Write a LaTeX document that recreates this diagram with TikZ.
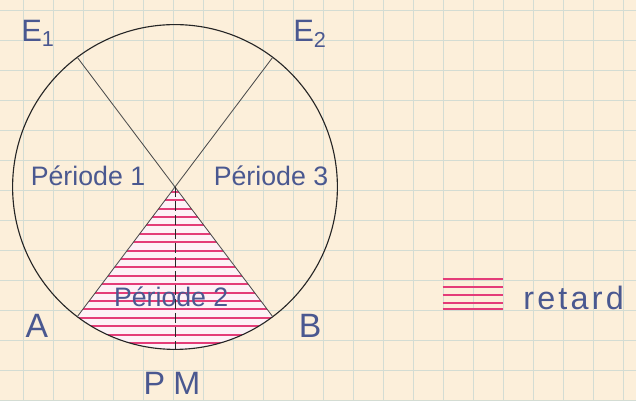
\documentclass[tikz,border=0pt]{standalone}
\usepackage{fontspec}
\newfontfamily\handfont{Liberation Sans}
\usetikzlibrary{calc}
\definecolor{paper}{HTML}{FCEFDA}
\definecolor{gridline}{HTML}{D3DCD3}
\definecolor{ink}{HTML}{4A5890}
\definecolor{retardpink}{HTML}{E43C78}

\begin{document}
\begin{tikzpicture}[
            lbl/.style={text=ink, font=\handfont\fontsize{19}{22}\selectfont, inner sep=0pt, anchor=base},
            biglbl/.style={lbl, font=\handfont\fontsize{24}{28}\selectfont},
            spoke/.style={draw=black!70, line width=0.6pt},
            hatch/.style={draw=retardpink, line width=1.3pt}
        ]
        % --- graph paper ---
        \fill[paper] (0,0) rectangle (15.9,10.025);
        \useasboundingbox (0,0) rectangle (15.9,10.025);
        \foreach \i in {0,...,20}
            \draw[gridline, line width=0.5pt] ({0.575+0.75*\i},0) -- ++(0,10.025);
        \foreach \j in {0,...,13}
            \draw[gridline, line width=0.5pt] (0,{9.775-0.75*\j}) -- ++(15.9,0);

        % --- circle and spokes ---
        \coordinate (O) at (4.375,5.35);
        \coordinate (e1) at ($(O)+(127:4.06)$);
        \coordinate (e2) at ($(O)+(53:4.06)$);
        \coordinate (a) at ($(O)+(233:4.06)$);
        \coordinate (b) at ($(O)+(307:4.06)$);
        \coordinate (pm) at ($(O)+(270:4.06)$);

        % --- Periode 2 (retard) ---
        \fill[retardpink!7] (O) -- (a) arc[start angle=233, end angle=307, radius=4.06] -- cycle;
        \begin{scope}
            \clip (O) -- (a) arc[start angle=233, end angle=307, radius=4.06] -- cycle;
            \foreach \k in {0,...,19}
                \draw[hatch] ($(O)+(-4,-0.12-0.21*\k)$) -- ++(8,0);
        \end{scope}

        \draw[black!85, line width=0.8pt] (O) circle[radius=4.06];
        \draw[spoke] (O) -- (e1);
        \draw[spoke] (O) -- (e2);
        \draw[spoke] (O) -- (a);
        \draw[spoke] (O) -- (b);
        \draw[black!85, line width=0.7pt, dash pattern=on 0.25cm off 0.1cm] (O) -- (pm);

        % --- labels ---
        \node[lbl, font=\handfont\fontsize{22}{26}\selectfont] (lE1) at (0.95,8.975) {E\textsubscript{1}};
        \node[lbl, font=\handfont\fontsize{22}{26}\selectfont] (lE2) at (7.75,8.975) {E\textsubscript{2}};
        \node[lbl] (p1) at (2.2,5.375) {Période 1};
        \node[lbl] (p3) at (6.775,5.375) {Période 3};
        \node[lbl] (p2) at (4.28,2.35) {Période 2};
        \node[biglbl] (lA) at (0.925,1.575) {A};
        \node[biglbl] (lB) at (7.75,1.575) {B};
        \node[lbl, font=\handfont\fontsize{23}{26}\selectfont\addfontfeature{LetterSpace=25}] (lPM) at (4.3,0.15) {PM};

        % --- legend ---
        \node[minimum width=1.5cm, minimum height=0.8cm, inner sep=0pt] (key) at (11.825,2.69) {};
        \foreach \y in {0.05,0.25,0.45,0.65,0.8}
            \draw[hatch] ($(key.north west)+(0,-\y)$) -- ($(key.north east)+(0,-\y)$);
        \node[lbl, anchor=base west, font=\handfont\fontsize{23}{27}\selectfont\addfontfeature{LetterSpace=10}] (ret) at (13.075,2.275) {retard};
        \end{tikzpicture}
\end{document}
